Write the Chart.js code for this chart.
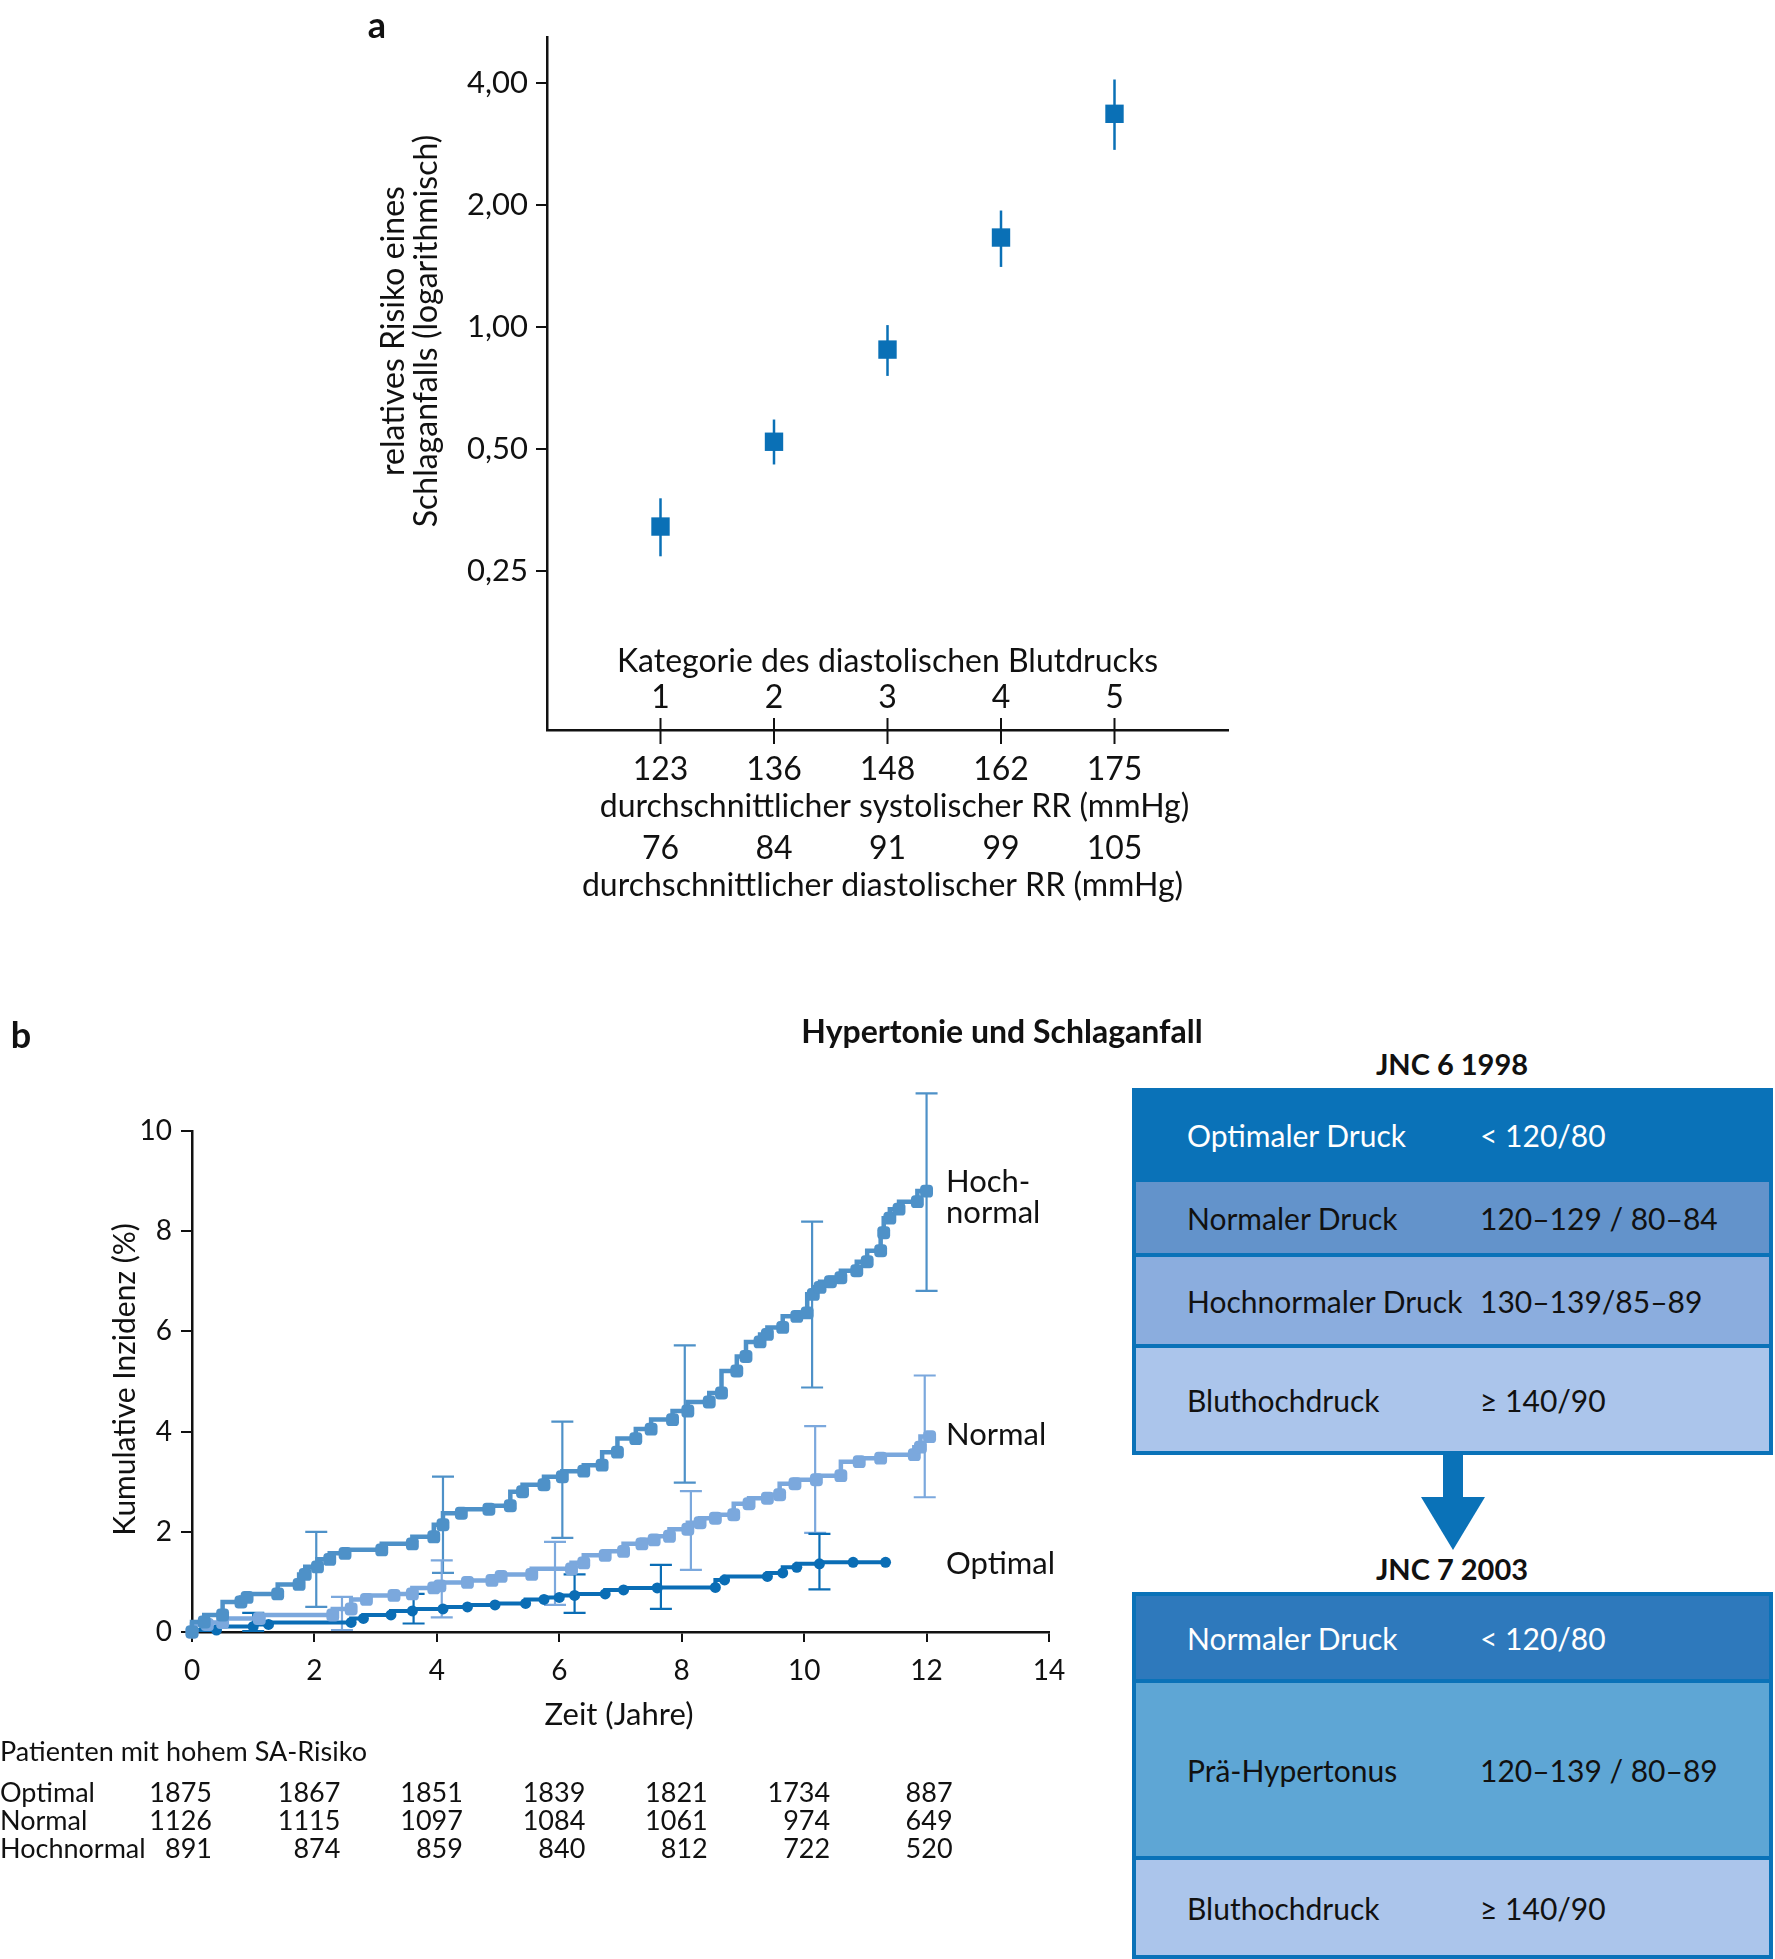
<!DOCTYPE html>
<html>
<head>
<meta charset="utf-8">
<script src="https://cdn.jsdelivr.net/npm/chart.js@4.4.1/dist/chart.umd.min.js"></script>
<style>
  body{margin:0;background:#fff;width:1775px;height:1959px;position:relative;overflow:hidden;font-family:Lato,sans-serif;color:#111}
  canvas{position:absolute}
  .lbl{position:absolute;font-weight:bold;white-space:nowrap;transform:translate(-50%,-50%)}
  .box{position:absolute;left:1132px;width:641px;background:#0a72b8;padding:4px;box-sizing:border-box;display:flex;flex-direction:column;gap:4px}
  .row{display:flex;align-items:center;padding-left:51px;font-size:30px;white-space:nowrap}
  .row span:first-child{min-width:293px}
</style>
</head>
<body>
<canvas id="chartA" width="1300" height="920" style="left:0;top:0"></canvas>
<canvas id="chartB" width="1110" height="979" style="left:0;top:980px"></canvas>

<div class="lbl" style="left:377px;top:24px;font-size:36px">a</div>
<div class="lbl" style="left:21px;top:1034px;font-size:36px">b</div>
<div class="lbl" style="left:1002px;top:1030px;font-size:32px">Hypertonie und Schlaganfall</div>
<div class="lbl" style="left:1452px;top:1063px;font-size:29px">JNC 6 1998</div>
<div class="lbl" style="left:1452px;top:1568px;font-size:29px">JNC 7 2003</div>

<div class="box" style="top:1088px">
  <div class="row" style="height:86px;background:#0a72b8;color:#fff"><span>Optimaler Druck</span><span>&lt; 120/80</span></div>
  <div class="row" style="height:71px;background:#6393cb"><span>Normaler Druck</span><span>120–129 / 80–84</span></div>
  <div class="row" style="height:87px;background:#8badde"><span>Hochnormaler Druck&nbsp;</span><span>130–139/85–89</span></div>
  <div class="row" style="height:103px;background:#abc5eb"><span>Bluthochdruck</span><span>≥ 140/90</span></div>
</div>
<svg style="position:absolute;left:1415px;top:1455px" width="80" height="100">
  <rect x="28" y="0" width="20" height="43" fill="#0a72b8"/>
  <polygon points="6,42 70,42 38,95" fill="#0a72b8"/>
</svg>
<div class="box" style="top:1592px">
  <div class="row" style="height:83px;background:#2e79bc;color:#fff"><span>Normaler Druck</span><span>&lt; 120/80</span></div>
  <div class="row" style="height:173px;background:#5ea6d5"><span>Prä-Hypertonus</span><span>120–139 / 80–89</span></div>
  <div class="row" style="height:95px;background:#abc5eb"><span>Bluthochdruck</span><span>≥ 140/90</span></div>
</div>

<script>
// ---- Panel a: relatives Risiko nach Blutdruckkategorie ----
const kategorien = [1, 2, 3, 4, 5];
const relRisiko = [0.322, 0.521, 0.879, 1.66, 3.35];
const risikoUnten = [0.272, 0.458, 0.757, 1.405, 2.73];
const risikoOben = [0.378, 0.591, 1.01, 1.935, 4.07];
const systolisch = ['123', '136', '148', '162', '175'];
const diastolisch = ['76', '84', '91', '99', '105'];
const yTicksA = [0.25, 0.5, 1, 2, 4];

// ---- Panel b: kumulative Inzidenz ----
const hochnormalX = [0,0.2,0.5,0.8,0.9,1.4,1.75,1.85,2.05,2.25,2.5,3.1,3.6,3.95,4.1,4.4,4.85,5.2,5.4,5.75,6.05,6.4,6.7,6.95,7.25,7.5,7.85,8.1,8.45,8.65,8.9,9.05,9.28,9.4,9.65,9.88,10.05,10.15,10.26,10.43,10.6,10.86,11.03,11.25,11.3,11.4,11.55,11.85,12.0];
const hochnormalY = [0,0.2,0.34,0.6,0.69,0.76,0.95,1.15,1.3,1.45,1.57,1.64,1.76,1.9,2.14,2.37,2.45,2.52,2.8,2.94,3.1,3.21,3.33,3.59,3.86,4.05,4.24,4.41,4.59,4.77,5.21,5.5,5.79,5.94,6.08,6.3,6.37,6.74,6.88,6.99,7.07,7.21,7.39,7.61,7.97,8.26,8.44,8.59,8.8];
const normalX = [0,0.25,0.5,1.1,2.3,2.6,2.85,3.3,3.6,3.95,4.05,4.5,4.9,5.05,5.55,6.2,6.4,6.75,7.05,7.35,7.55,7.8,8.1,8.3,8.55,8.85,9.1,9.4,9.6,9.85,10.2,10.6,10.9,11.25,11.8,11.9,12.05];
const normalY = [0,0.15,0.19,0.27,0.34,0.46,0.65,0.73,0.76,0.88,0.92,0.99,1.03,1.11,1.15,1.26,1.38,1.53,1.61,1.76,1.84,1.91,2.05,2.18,2.27,2.34,2.56,2.67,2.74,2.96,3.04,3.12,3.4,3.47,3.54,3.69,3.9];
const optimalX = [0,0.4,1.0,1.25,2.6,2.8,3.25,3.6,4.1,4.5,4.95,5.45,5.75,6.0,6.25,6.75,7.05,7.6,8.55,8.7,9.4,9.65,9.88,10.25,10.8,11.33];
const optimalY = [0,0.04,0.11,0.15,0.19,0.27,0.34,0.42,0.46,0.5,0.54,0.57,0.65,0.69,0.73,0.76,0.84,0.88,0.89,1.04,1.11,1.18,1.29,1.36,1.39,1.39];

const hochnormalErrX = [2.03, 4.1, 6.05, 8.05, 10.13, 12.0];
const hochnormalErrLo = [0.5, 1.18, 1.88, 2.98, 4.88, 6.81];
const hochnormalErrHi = [2.0, 3.1, 4.2, 5.72, 8.19, 10.75];
const normalErrX = [2.45, 4.08, 5.93, 8.15, 10.18, 11.97];
const normalErrLo = [0.04, 0.29, 0.54, 1.24, 1.98, 2.69];
const normalErrHi = [0.7, 1.43, 1.8, 2.81, 4.11, 5.12];
const optimalErrX = [1.0, 3.62, 6.25, 7.66, 10.25];
const optimalErrLo = [0.02, 0.17, 0.38, 0.46, 0.85];
const optimalErrHi = [0.38, 0.76, 1.15, 1.34, 1.96];

const jahre = [0, 2, 4, 6, 8, 10, 12];
const gruppen = ['Optimal', 'Normal', 'Hochnormal'];
const patOptimal = ['1875', '1867', '1851', '1839', '1821', '1734', '887'];
const patNormal = ['1126', '1115', '1097', '1084', '1061', '974', '649'];
const patHochnormal = ['891', '874', '859', '840', '812', '722', '520'];

const FONT = 'Lato';
const INK = '#111';
const colHoch = '#4e91c8';
const colNorm = '#7ba8dd';
const colOpt = '#0a6db5';

// error bars + texts for panel a
const panelA = {
  id: 'panelA',
  beforeDatasetsDraw(chart) {
    const {ctx, scales: {x, y}} = chart;
    ctx.save();
    ctx.strokeStyle = '#0a70b6';
    ctx.lineWidth = 2.5;
    kategorien.forEach((k, i) => {
      ctx.beginPath();
      ctx.moveTo(x.getPixelForValue(k), y.getPixelForValue(risikoUnten[i]));
      ctx.lineTo(x.getPixelForValue(k), y.getPixelForValue(risikoOben[i]));
      ctx.stroke();
    });
    ctx.restore();
  },
  afterDraw(chart) {
    const {ctx, chartArea: {bottom}, scales: {x}} = chart;
    ctx.save();
    ctx.strokeStyle = INK;
    ctx.lineWidth = 2;
    kategorien.forEach(k => {
      const px = x.getPixelForValue(k);
      ctx.beginPath();
      ctx.moveTo(px, bottom - 12);
      ctx.lineTo(px, bottom + 14);
      ctx.stroke();
    });
    ctx.fillStyle = INK;
    ctx.textAlign = 'center';
    ctx.textBaseline = 'middle';
    ctx.font = `32px ${FONT}`;
    const mid = x.getPixelForValue(3);
    ctx.fillText('Kategorie des diastolischen Blutdrucks', mid, bottom - 68);
    kategorien.forEach((k, i) => {
      const px = x.getPixelForValue(k);
      ctx.fillText(String(k), px, bottom - 32);
      ctx.fillText(systolisch[i], px, bottom + 40);
      ctx.fillText(diastolisch[i], px, bottom + 119);
    });
    ctx.fillText('durchschnittlicher systolischer RR (mmHg)', mid + 7, bottom + 77);
    ctx.fillText('durchschnittlicher diastolischer RR (mmHg)', mid - 5, bottom + 156);
    // y title, two lines
    ctx.save();
    ctx.translate(410, 331);
    ctx.rotate(-Math.PI / 2);
    ctx.fillText('relatives Risiko eines', 0, -16);
    ctx.fillText('Schlaganfalls (logarithmisch)', 0, 17);
    ctx.restore();
    ctx.restore();
  }
};

new Chart(document.getElementById('chartA'), {
  type: 'scatter',
  data: {
    datasets: [{
      data: kategorien.map((k, i) => ({x: k, y: relRisiko[i]})),
      pointStyle: 'rect',
      pointRadius: 13,
      backgroundColor: '#0a70b6',
      borderWidth: 0
    }]
  },
  options: {
    responsive: false,
    animation: false,
    devicePixelRatio: 1,
    layout: {padding: {top: 37, right: 72, left: 0, bottom: 0}},
    plugins: {legend: {display: false}, tooltip: {enabled: false}},
    scales: {
      x: {
        type: 'linear', min: 0, max: 6,
        afterFit(s) { s.height = 190; },
        ticks: {display: false},
        grid: {display: false},
        border: {color: INK, width: 2.5}
      },
      y: {
        type: 'logarithmic', min: 0.1015, max: 5.18,
        afterFit(s) { s.width = 547; },
        afterBuildTicks(s) { s.ticks = yTicksA.map(v => ({value: v})); },
        ticks: {
          callback: v => v.toFixed(2).replace('.', ','),
          font: {family: FONT, size: 31}, color: INK, padding: 8
        },
        grid: {drawOnChartArea: false, tickLength: 11, color: INK, lineWidth: 2},
        border: {color: INK, width: 2.5}
      }
    }
  },
  plugins: [panelA]
});

// error bars, labels and number-at-risk table for panel b
const serienErr = [
  {xs: hochnormalErrX, lo: hochnormalErrLo, hi: hochnormalErrHi, color: colHoch},
  {xs: normalErrX, lo: normalErrLo, hi: normalErrHi, color: colNorm},
  {xs: optimalErrX, lo: optimalErrLo, hi: optimalErrHi, color: colOpt}
];

const panelB = {
  id: 'panelB',
  beforeDatasetsDraw(chart) {
    const {ctx, scales: {x, y}} = chart;
    ctx.save();
    serienErr.forEach(s => {
      ctx.strokeStyle = s.color;
      ctx.lineWidth = 2.2;
      s.xs.forEach((v, i) => {
        const px = x.getPixelForValue(v);
        const y1 = y.getPixelForValue(s.lo[i]);
        const y2 = y.getPixelForValue(s.hi[i]);
        ctx.beginPath();
        ctx.moveTo(px, y1); ctx.lineTo(px, y2);
        ctx.moveTo(px - 11, y1); ctx.lineTo(px + 11, y1);
        ctx.moveTo(px - 11, y2); ctx.lineTo(px + 11, y2);
        ctx.stroke();
      });
    });
    ctx.restore();
  },
  afterDraw(chart) {
    const {ctx, scales: {x, y}} = chart;
    ctx.save();
    ctx.fillStyle = INK;
    ctx.textBaseline = 'middle';
    ctx.font = `31px ${FONT}`;
    ctx.textAlign = 'left';
    ctx.fillText('Hoch-', 946, 1182 - 980);
    ctx.fillText('normal', 946, 1213 - 980);
    ctx.fillText('Normal', 946, 1435 - 980);
    ctx.fillText('Optimal', 946, 1564 - 980);

    ctx.font = `31px ${FONT}`;
    ctx.textAlign = 'center';
    ctx.fillText('Zeit (Jahre)', 619, 1715 - 980);
    ctx.save();
    ctx.font = `30px ${FONT}`;
    ctx.translate(125, (y.top + y.bottom) / 2 - 2);
    ctx.rotate(-Math.PI / 2);
    ctx.fillText('Kumulative Inzidenz (%)', 0, 0);
    ctx.restore();

    ctx.font = `27px ${FONT}`;
    ctx.textAlign = 'left';
    ctx.fillText('Patienten mit hohem SA-Risiko', 0, 1752 - 980);
    const zeilen = [patOptimal, patNormal, patHochnormal];
    const zeilenY = [1793, 1821, 1849];
    zeilen.forEach((werte, r) => {
      ctx.textAlign = 'left';
      ctx.fillText(gruppen[r], 0, zeilenY[r] - 980);
      ctx.textAlign = 'right';
      werte.forEach((w, i) => {
        ctx.fillText(w, x.getPixelForValue(jahre[i]) + (i === 0 ? 20 : 26), zeilenY[r] - 980);
      });
    });
    ctx.restore();
  }
};

const stufe = (xs, ys) => xs.map((v, i) => ({x: v, y: ys[i]}));

new Chart(document.getElementById('chartB'), {
  type: 'line',
  data: {
    datasets: [
      {label: 'Hochnormal', data: stufe(hochnormalX, hochnormalY), stepped: 'after',
        borderColor: colHoch, backgroundColor: colHoch, borderWidth: 4.5,
        pointStyle: 'rectRounded', pointRadius: 7.5, pointBorderWidth: 0},
      {label: 'Normal', data: stufe(normalX, normalY), stepped: 'after',
        borderColor: colNorm, backgroundColor: colNorm, borderWidth: 4.5,
        pointStyle: 'rectRounded', pointRadius: 7.5, pointBorderWidth: 0},
      {label: 'Optimal', data: stufe(optimalX, optimalY), stepped: 'after',
        borderColor: colOpt, backgroundColor: colOpt, borderWidth: 4,
        pointStyle: 'circle', pointRadius: 5.5, pointBorderWidth: 0}
    ]
  },
  options: {
    responsive: false,
    animation: false,
    devicePixelRatio: 1,
    clip: false,
    layout: {padding: {top: 151, right: 61, left: 0, bottom: 0}},
    plugins: {legend: {display: false}, tooltip: {enabled: false}},
    scales: {
      x: {
        type: 'linear', min: 0, max: 14,
        afterFit(s) { s.height = 327; },
        ticks: {stepSize: 2, font: {family: FONT, size: 28}, color: INK, padding: 12},
        grid: {drawOnChartArea: false, tickLength: 10, color: INK, lineWidth: 2},
        border: {color: INK, width: 2.5}
      },
      y: {
        min: 0, max: 10,
        afterFit(s) { s.width = 192; },
        ticks: {stepSize: 2, font: {family: FONT, size: 28}, color: INK, padding: 9},
        grid: {drawOnChartArea: false, tickLength: 11, color: INK, lineWidth: 2},
        border: {color: INK, width: 2.5}
      }
    }
  },
  plugins: [panelB]
});
</script>
</body>
</html>
